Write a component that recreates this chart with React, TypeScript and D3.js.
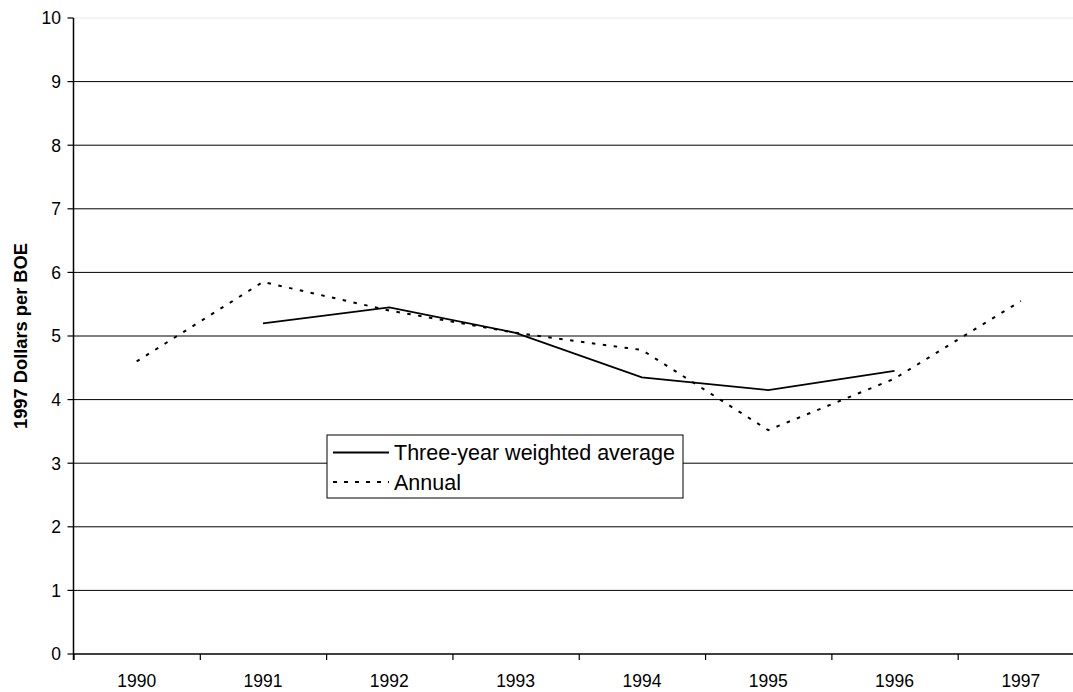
import React from "react";
import * as d3 from "d3";

const years = ["1990", "1991", "1992", "1993", "1994", "1995", "1996", "1997"];
const annual = [4.6, 5.85, 5.4, 5.05, 4.78, 3.52, 4.33, 5.55];
const threeYear: (number | null)[] = [null, 5.2, 5.45, 5.05, 4.35, 4.15, 4.45, null];
const yTicks = [0, 1, 2, 3, 4, 5, 6, 7, 8, 9, 10];
const legendLabels = ["Three-year weighted average", "Annual"];

export default function App() {
  const W = 1073, H = 692;
  const left = 73.5, right = 1084, top = 18, bottom = 654;
  const x = d3.scaleBand<string>().domain(years).range([left, right]);
  const y = d3.scaleLinear().domain([0, 10]).range([bottom, top]);
  const cx = (i: number) => (x(years[i]) as number) + x.bandwidth() / 2;

  const lineAnnual = d3.line<number>().x((_, i) => cx(i)).y((d) => y(d));
  const lineThree = d3
    .line<number | null>()
    .defined((d) => d !== null)
    .x((_, i) => cx(i))
    .y((d) => y(d as number));

  const font = "'Liberation Sans', Arial, sans-serif";

  return (
    <svg width={W} height={H} style={{ position: "absolute", left: 0, top: 0 }} fontFamily={font}>
      <rect width={W} height={H} fill="#fff" />
      {yTicks.map((t) => (
        <g key={t}>
          {t > 0 && (
            <line x1={left} x2={right} y1={y(t)} y2={y(t)} stroke={t === 10 ? "#e8e8e8" : "#000"} strokeWidth={1} />
          )}
          <line x1={left - 6} x2={left} y1={y(t)} y2={y(t)} stroke="#000" strokeWidth={1.2} />
          <text x={61} y={y(t)} dy="0.36em" textAnchor="end" fontSize={17.5}>
            {t}
          </text>
        </g>
      ))}
      {years.map((yr, i) => (
        <g key={yr}>
          <line x1={(x(yr) as number) + 0.5} x2={(x(yr) as number) + 0.5} y1={bottom} y2={bottom + 6} stroke="#000" strokeWidth={1.2} />
          <text x={cx(i)} y={687} textAnchor="middle" fontSize={17.5}>
            {yr}
          </text>
        </g>
      ))}
      <line x1={left} x2={left} y1={top} y2={bottom + 6} stroke="#000" strokeWidth={1.5} />
      <line x1={left} x2={right} y1={bottom} y2={bottom} stroke="#000" strokeWidth={1.5} />

      <path d={lineAnnual(annual) || ""} fill="none" stroke="#000" strokeWidth={2} strokeDasharray="3.5,7.5" />
      <path d={lineThree(threeYear) || ""} fill="none" stroke="#000" strokeWidth={1.8} />

      <text
        transform={`translate(27,${(top + bottom) / 2}) rotate(-90)`}
        textAnchor="middle"
        fontSize={18.3}
        fontWeight="bold"
      >
        1997 Dollars per BOE
      </text>

      <g>
        <rect x={327} y={435} width={356} height={63} fill="#fff" stroke="#000" strokeWidth={1} />
        <line x1={333} x2={389} y1={452.5} y2={452.5} stroke="#000" strokeWidth={1.8} />
        <text x={394} y={460} fontSize={21.5}>
          {legendLabels[0]}
        </text>
        <line x1={333} x2={389} y1={482} y2={482} stroke="#000" strokeWidth={2} strokeDasharray="4,7" />
        <text x={394} y={490} fontSize={21.5}>
          {legendLabels[1]}
        </text>
      </g>
    </svg>
  );
}
